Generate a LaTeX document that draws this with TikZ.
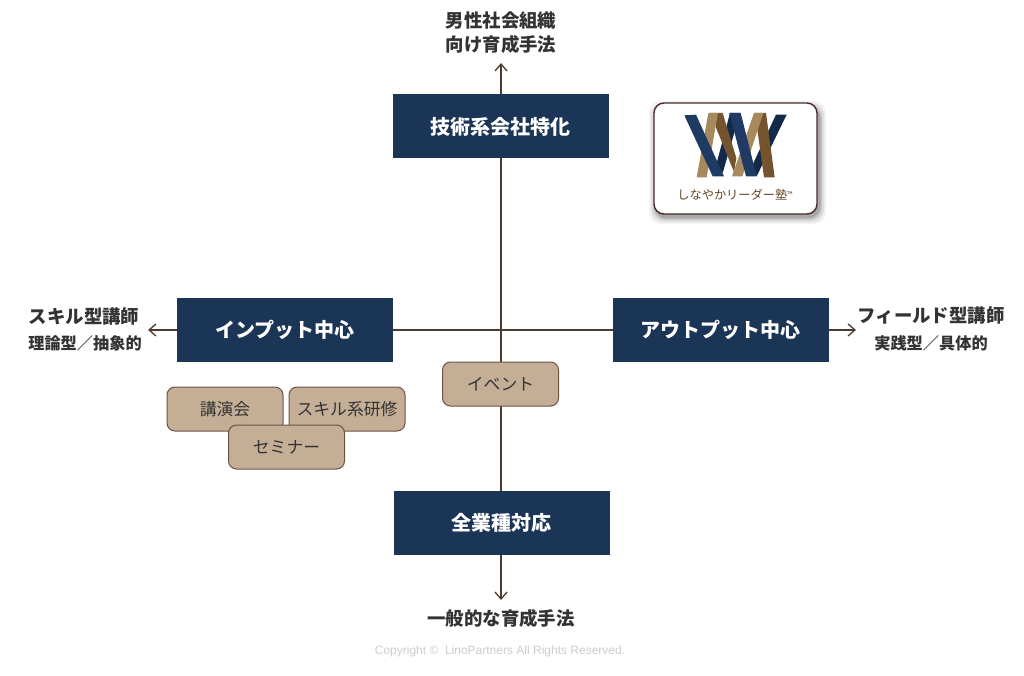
\documentclass[tikz,border=0pt]{standalone}
\usepackage{fontspec}
\setmainfont{Noto Sans CJK JP}
\newfontfamily\latinfont{Liberation Sans}
\usetikzlibrary{arrows.meta,backgrounds}
\definecolor{navy}{HTML}{1B3556}
\definecolor{navydark}{HTML}{12294A}
\definecolor{navylogo}{HTML}{1F3B63}
\definecolor{tagtan}{HTML}{C4AF96}
\definecolor{edgebrown}{HTML}{6B5344}
\definecolor{linebrown}{HTML}{4F3A2E}
\definecolor{inkc}{HTML}{333333}
\definecolor{logotan}{HTML}{A68A5E}
\definecolor{logobrown}{HTML}{74532F}
\definecolor{cardedge}{HTML}{4A2A2A}
\tikzset{
  x=1pt,y=-1pt,
  mainbox/.style={fill=navy,draw=none,minimum width=216pt,minimum height=64pt,inner sep=0pt,text=white,font=\fontsize{20}{24}\selectfont\bfseries},
  tagbox/.style={fill=tagtan,draw=edgebrown,line width=1pt,rounded corners=8pt,minimum width=116pt,minimum height=44pt,inner sep=0pt,text=inkc,font=\fontsize{16.8}{20}\selectfont},
  axis/.style={draw=linebrown,line width=1.3pt},
  axisarrow/.style={axis,-{Straight Barb[length=7pt,width=12pt,line width=1.3pt]}},
  bigcap/.style={text=inkc,inner sep=0pt,font=\fontsize{18.4}{24}\selectfont\bfseries},
  smallcap/.style={text=inkc,inner sep=0pt,font=\fontsize{16.2}{20}\selectfont\bfseries},
}
\begin{document}
\begin{tikzpicture}
\useasboundingbox (0,0) rectangle (1024,676);

% axis end points
\coordinate (topend) at (501,63);
\coordinate (bottomend) at (501,600);
\coordinate (leftend) at (148,330);
\coordinate (rightend) at (856,330);

% main boxes
\node[mainbox] (tech) at (500.5,126.5) {技術系会社特化};
\node[mainbox] (input) at (285,330) {インプット中心};
\node[mainbox] (output) at (720.5,330) {アウトプット中心};
\node[mainbox] (all) at (501.5,523) {全業種対応};

% connectors, behind the boxes
\begin{pgfonlayer}{background}
\fill[white] (0,0) rectangle (1024,676);
\draw[axis] (input.center) -- (output.center);
\draw[axis] (tech.center -| topend) -- (all.center -| topend);
\end{pgfonlayer}
\draw[axisarrow] (tech.north -| topend) -- (topend);
\draw[axisarrow] (all.south -| bottomend) -- (bottomend);
\draw[axisarrow] (input.west) -- (leftend);
\draw[axisarrow] (output.east) -- (rightend);

% tag boxes
\node[tagbox] (event) at (500.5,384) {イベント};
\node[tagbox] (lecture) at (225,409) {\raisebox{1.5pt}{講演会}};
\node[tagbox] (skill) at (347,409) {\raisebox{1.5pt}{スキル系研修}};
\node[tagbox] (seminar) at (286.5,447) {セミナー};

% captions
\node[bigcap,align=center] (captop) at (501,33) {男性社会組織\\向け育成手法};
\node[bigcap] (capbottom) at (501,618) {一般的な育成手法};
\node[bigcap] (capleft) at (84,317) {スキル型講師};
\node[smallcap] (capleftb) at (85,343) {理論型／抽象的};
\node[bigcap] (capright) at (931,316) {フィールド型講師};
\node[smallcap] (caprightb) at (931,343) {実践型／具体的};
\node[inner sep=0pt,text=black!20,font=\latinfont\fontsize{12}{14}\selectfont] (copy) at (500,651.5) {Copyright ©\ \ LinoPartners All Rights Reserved.};

% logo card
\foreach \s/\o in {7/0.05,5/0.08,3/0.11,1.5/0.15}{
  \fill[black,opacity=\o,rounded corners=12pt] (656-\s,108-\s) rectangle (819+\s,217+\s);
}
\node[fill=white,draw=cardedge,line width=1.4pt,rounded corners=10pt,minimum width=163pt,minimum height=111pt,inner sep=0pt] (card) at (735.5,158.5) {};

% logo ribbons, back to front
\begin{scope}[shift={(680,108)},x=0.3333pt,y=-0.3333pt]
  \fill[navydark] (150,15) -- (180,15) -- (128,195) -- (110,165) -- cycle;
  \fill[navydark] (288,20) -- (320,20) -- (230,205) -- (218,170) -- cycle;
  \fill[logobrown] (225,15) -- (258,15) -- (284,208) -- (252,208) -- cycle;
  \fill[logobrown] (90,15) -- (128,15) -- (169,150) -- (162,192) -- cycle;
  \fill[logotan] (85,15) -- (114,15) -- (80,208) -- (50,208) -- cycle;
  \fill[logotan] (222,15) -- (250,15) -- (187,205) -- (156,205) -- cycle;
  \fill[navylogo] (13,22) -- (48,20) -- (132,205) -- (98,205) -- cycle;
  \fill[navylogo] (148,15) -- (182,15) -- (230,205) -- (198,205) -- cycle;
\end{scope}
\node[inner sep=0pt,text=logobrown!85!black,font=\fontsize{12.2}{14}\selectfont] (logotext) at (735,195) {しなやかリーダー塾\raisebox{2.5pt}{\fontsize{7.5}{8}\selectfont ™}};
\end{tikzpicture}
\end{document}
